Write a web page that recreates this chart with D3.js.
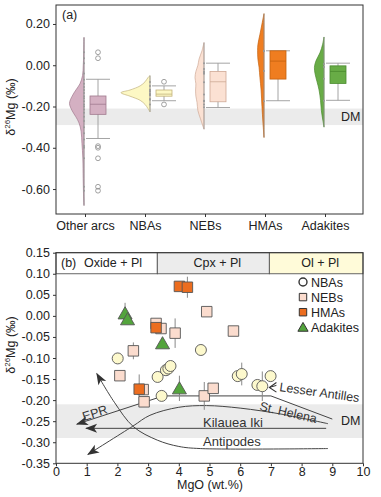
<!DOCTYPE html>
<html>
<head>
<meta charset="utf-8">
<script src="https://cdn.jsdelivr.net/npm/d3@7"></script>
<style>
  body { margin: 0; background: #fff; }
  svg { font-family: "Liberation Sans", Arial, sans-serif; }
</style>
</head>
<body>
<svg id="chart" width="381" height="497"></svg>
<script>
// ---------- panel (a) data ----------
const groups = ['Other arcs', 'NBAs', 'NEBs', 'HMAs', 'Adakites'];
const groupFill = ['#d4b0c2', '#fdf8c4', '#fbe1d3', '#ef7d20', '#68ac46'];
const groupStroke = ['#a07a8e', '#c2b27c', '#cfa996', '#c4620f', '#4a8a2e'];

const boxQ1 = [-0.238, -0.15, -0.177, -0.067, -0.088];
const boxMedian = [-0.189, -0.14, -0.08, 0.02, -0.03];
const boxQ3 = [-0.149, -0.12, -0.03, 0.07, -0.003];
const whiskerLow = [-0.355, -0.172, -0.205, -0.172, -0.17];
const whiskerHigh = [-0.068, -0.10, 0.01, 0.07, 0.01];
const outliers = [
  [0.063, 0.034, -0.392, -0.40, -0.451, -0.589, -0.608],
  [-0.08, -0.19],
  [], [], []
];

// violin half-profiles: [δ26Mg, relative density]
const violinOther = [[0.135, 0], [0.05, 0.01], [0, 0.025], [-0.05, 0.05], [-0.09, 0.14], [-0.12, 0.28],
  [-0.15, 0.41], [-0.185, 0.5], [-0.22, 0.41], [-0.25, 0.28], [-0.28, 0.17], [-0.32, 0.1],
  [-0.38, 0.07], [-0.45, 0.04], [-0.55, 0.028], [-0.62, 0.017], [-0.68, 0]];
const violinNBA = [[-0.05, 0], [-0.06, 0.07], [-0.08, 0.17], [-0.10, 0.34], [-0.12, 0.69], [-0.133, 1],
  [-0.15, 0.69], [-0.17, 0.34], [-0.19, 0.17], [-0.21, 0.07], [-0.226, 0]];
const violinNEB = [[0.11, 0], [0.07, 0.07], [0.03, 0.17], [0, 0.21], [-0.03, 0.28], [-0.06, 0.31],
  [-0.09, 0.28], [-0.12, 0.29], [-0.15, 0.28], [-0.18, 0.24], [-0.22, 0.21], [-0.26, 0.12],
  [-0.29, 0.05], [-0.31, 0]];
const violinHMA = [[0.25, 0], [0.2, 0.07], [0.15, 0.14], [0.1, 0.21], [0.07, 0.22], [0.03, 0.21],
  [-0.01, 0.17], [-0.06, 0.14], [-0.12, 0.1], [-0.2, 0.07], [-0.28, 0.035], [-0.35, 0]];
const violinAdakite = [[0.137, 0], [0.1, 0.05], [0.06, 0.14], [0.02, 0.28], [-0.01, 0.33], [-0.04, 0.31],
  [-0.08, 0.24], [-0.12, 0.17], [-0.17, 0.12], [-0.22, 0.09], [-0.27, 0.035], [-0.30, 0]];
const violins = [violinOther, violinNBA, violinNEB, violinHMA, violinAdakite];

const otherArcsMg = [0.063, 0.034, 0.01, -0.04, -0.07, -0.09, -0.105, -0.12, -0.135, -0.15, -0.16,
  -0.175, -0.19, -0.2, -0.215, -0.23, -0.25, -0.27, -0.3, -0.33, -0.36, -0.392, -0.4, -0.451, -0.589, -0.608];

// ---------- panel (b) data ----------
const nbaMgO = [2.01, 3.31, 3.58, 3.66, 3.73, 3.44, 4.72, 5.92, 6.05, 6.56, 6.72, 6.99];
const nbaMg = [-0.101, -0.145, -0.129, -0.125, -0.119, -0.19, -0.081, -0.143, -0.138, -0.164, -0.167, -0.143];
const nbaErr = [0, 0, 0, 0, 0, 0.01, 0, 0, 0.027, 0, 0.035, 0.012];

const nebMgO = [4.91, 5.78, 3.88, 3.26, 3.42, 2.52, 2.08, 2.87, 2.84, 4.83, 5.12];
const nebMg = [0.01, -0.036, -0.041, -0.018, -0.03, -0.083, -0.142, -0.204, -0.175, -0.19, -0.172];
const nebErr = [0, 0, 0.035, 0, 0, 0.02, 0, 0, 0, 0.033, 0];

const hmaMgO = [4.02, 4.28, 3.26, 2.71];
const hmaMg = [0.07, 0.068, -0.028, -0.174];
const hmaErr = [0, 0.025, 0, 0.035];

const adakiteMgO = [2.25, 2.33, 3.47, 4.02];
const adakiteMg = [0.006, -0.008, -0.065, -0.172];
const adakiteErr = [0.025, 0, 0, 0.03];

const phaseNames = ['Oxide + Pl', 'Cpx + Pl', 'Ol + Pl'];
const phaseBounds = [0, 3.3, 6.95, 10];
const phaseFill = ['#ffffff', '#ececec', '#fffbd9'];

// model trends: [MgO, δ26Mg], drawn from first to last point (arrow at the end)
const trendEPR = [[9.0, -0.245], [7.0, -0.19], [3.5, -0.19], [0.68, -0.257]];
const trendStHelena = [[8.86, -0.256], [7.4, -0.234], [6.0, -0.219], [4.9, -0.213], [4.0, -0.217],
  [3.06, -0.236], [2.5, -0.262], [1.04, -0.329]];
const trendKilauea = [[8.8, -0.267], [0.98, -0.267]];
const trendAntipodes = [[8.86, -0.315], [4.7, -0.315], [4.0, -0.31], [3.3, -0.295], [2.52, -0.263],
  [1.9, -0.205], [1.33, -0.137]];

const dmRange = [-0.29, -0.21];

const svg = d3.select('#chart');
const axisColor = '#333';

const defs = svg.append('defs');
defs.append('marker')
  .attr('id', 'arrow')
  .attr('viewBox', '-1 -5 14 10')
  .attr('refX', 11).attr('refY', 0)
  .attr('markerWidth', 14).attr('markerHeight', 10)
  .attr('markerUnits', 'userSpaceOnUse')
  .attr('orient', 'auto')
  .append('path')
  .attr('d', 'M0,-4.5L12,0L0,4.5L3,0Z')
  .attr('fill', '#333');

function yLabel(cy) {
  const t = svg.append('text')
    .attr('transform', `translate(15,${cy}) rotate(-90)`)
    .attr('text-anchor', 'middle')
    .attr('font-size', 12.5)
    .attr('fill', '#222');
  t.append('tspan').text('δ');
  t.append('tspan').attr('font-size', 8).attr('dy', -5).text('26');
  t.append('tspan').attr('dy', 5).text('Mg (‰)');
}

// =============== panel (a) ===============
const xA = d3.scalePoint().domain(groups).range([85, 325]);
const yA = d3.scaleLinear().domain([-0.721, 0.292]).range([214, 5]);
const wA = d3.scaleLinear().domain([0, 1]).range([0, 29]);
const leftA = 56, rightA = 363;

svg.append('rect')
  .attr('x', leftA).attr('width', rightA - leftA)
  .attr('y', yA(dmRange[1])).attr('height', yA(dmRange[0]) - yA(dmRange[1]))
  .attr('fill', '#ebebeb');

groups.forEach((g, i) => {
  const cx = xA(g) + (g === 'NBAs' ? 5 : -1);
  const bx = cx + 14;
  const grp = svg.append('g');

  const area = d3.area()
    .y(d => yA(d[0]))
    .x0(cx)
    .x1(d => cx - wA(d[1]))
    .curve(d3.curveCatmullRom);
  grp.append('path')
    .datum(violins[i])
    .attr('d', area)
    .attr('fill', groupFill[i])
    .attr('stroke', groupStroke[i])
    .attr('stroke-width', 0.7);

  const vals = violins[i].map(d => d[0]);
  grp.append('line')
    .attr('x1', cx).attr('x2', cx)
    .attr('y1', yA(d3.max(vals))).attr('y2', yA(d3.min(vals)))
    .attr('stroke', '#999').attr('stroke-width', 0.8);

  // raw points on the spine
  const pts = [otherArcsMg, nbaMg, nebMg, hmaMg, adakiteMg][i];
  grp.selectAll('circle.raw')
    .data(pts).enter().append('circle')
    .attr('class', 'raw')
    .attr('cx', cx).attr('cy', d => yA(d)).attr('r', 1)
    .attr('fill', '#9a9a9a');

  // whiskers
  grp.append('line')
    .attr('x1', bx).attr('x2', bx)
    .attr('y1', yA(whiskerHigh[i])).attr('y2', yA(whiskerLow[i]))
    .attr('stroke', '#9a9a9a').attr('stroke-width', 0.9);
  [whiskerHigh[i], whiskerLow[i]].forEach(v => {
    grp.append('line')
      .attr('x1', bx - 12).attr('x2', bx + 12)
      .attr('y1', yA(v)).attr('y2', yA(v))
      .attr('stroke', '#9a9a9a').attr('stroke-width', 0.9);
  });

  // box
  grp.append('rect')
    .attr('x', bx - 8).attr('width', 16)
    .attr('y', yA(boxQ3[i])).attr('height', yA(boxQ1[i]) - yA(boxQ3[i]))
    .attr('fill', groupFill[i])
    .attr('stroke', groupStroke[i]).attr('stroke-width', 0.8);
  grp.append('line')
    .attr('x1', bx - 8).attr('x2', bx + 8)
    .attr('y1', yA(boxMedian[i])).attr('y2', yA(boxMedian[i]))
    .attr('stroke', groupStroke[i]).attr('stroke-width', 0.8);

  grp.selectAll('circle.out')
    .data(outliers[i]).enter().append('circle')
    .attr('class', 'out')
    .attr('cx', bx).attr('cy', d => yA(d)).attr('r', 2.4)
    .attr('fill', 'none').attr('stroke', '#8a8a8a').attr('stroke-width', 0.8);
});

svg.append('text')
  .attr('x', 341).attr('y', yA(-0.268))
  .attr('font-size', 12.5).attr('fill', '#222')
  .text('DM');

svg.append('text')
  .attr('x', 62).attr('y', 19)
  .attr('font-size', 12.5).attr('fill', '#222')
  .text('(a)');

svg.append('rect')
  .attr('x', leftA).attr('y', 5)
  .attr('width', rightA - leftA).attr('height', 214 - 5)
  .attr('fill', 'none').attr('stroke', axisColor).attr('stroke-width', 1);

const axA_y = svg.append('g')
  .attr('transform', `translate(${leftA},0)`)
  .call(d3.axisLeft(yA).tickValues([0.2, 0, -0.2, -0.4, -0.6]).tickFormat(d3.format('.2f')).tickSize(3).tickPadding(3));
const axA_x = svg.append('g')
  .attr('transform', 'translate(0,214)')
  .call(d3.axisBottom(xA).tickSize(3).tickPadding(4));
[axA_y, axA_x].forEach(a => {
  a.select('.domain').remove();
  a.selectAll('line').attr('stroke', axisColor);
  a.selectAll('text').attr('font-size', 12.5).attr('fill', '#222')
    .attr('font-family', '"Liberation Sans", Arial, sans-serif');
});
axA_y.selectAll('text').text(d => d === 0 ? '0.00' : d3.format('.2f')(d).replace('−', '-'));
yLabel(107);

// =============== panel (b) ===============
const xB = d3.scaleLinear().domain([0, 10]).range([56, 363]);
const yB = d3.scaleLinear().domain([-0.35, 0.15]).range([463.3, 252.7]);

svg.append('rect')
  .attr('x', xB(0)).attr('width', xB(10) - xB(0))
  .attr('y', yB(dmRange[1])).attr('height', yB(dmRange[0]) - yB(dmRange[1]))
  .attr('fill', '#ebebeb');

// phase header
phaseNames.forEach((p, i) => {
  svg.append('rect')
    .attr('x', xB(phaseBounds[i])).attr('width', xB(phaseBounds[i + 1]) - xB(phaseBounds[i]))
    .attr('y', yB(0.15)).attr('height', yB(0.10) - yB(0.15))
    .attr('fill', phaseFill[i]).attr('stroke', '#555').attr('stroke-width', 0.9);
  const mid = (xB(phaseBounds[i]) + xB(phaseBounds[i + 1])) / 2;
  svg.append('text')
    .attr('x', i === 0 ? 84 : mid + 4)
    .attr('y', 267)
    .attr('text-anchor', i === 0 ? 'start' : 'middle')
    .attr('font-size', 12.5).attr('fill', '#222')
    .text(p);
});
svg.append('text')
  .attr('x', 61).attr('y', 267)
  .attr('font-size', 12.5).attr('fill', '#222')
  .text('(b)');

// trends
const trendLine = d3.line().x(d => xB(d[0])).y(d => yB(d[1]));
[[trendEPR, d3.curveLinear], [trendStHelena, d3.curveCatmullRom], [trendKilauea, d3.curveLinear],
  [trendAntipodes, d3.curveCatmullRom]].forEach(([t, c]) => {
  svg.append('path')
    .datum(t)
    .attr('d', trendLine.curve(c))
    .attr('fill', 'none')
    .attr('stroke', '#444').attr('stroke-width', 1)
    .attr('marker-end', 'url(#arrow)');
});

// trend labels
function trendText(txt, x, y, rot, size) {
  svg.append('text')
    .attr('transform', `translate(${x},${y}) rotate(${rot})`)
    .attr('font-size', size).attr('fill', '#333')
    .text(txt);
}
trendText('EPR', 84, 421, -18, 12.5);
trendText('St. Helena', 259, 410, 13, 12.5);
trendText('Kilauea Iki', 203, 427, 0, 13);
trendText('Antipodes', 203, 445.5, 0, 13);
trendText('Lesser Antilles', 279, 391, 8, 12.5);
// open arrow to Lesser Antilles point
svg.append('path')
  .attr('d', `M${xB(7.18)},${yB(-0.165)}L${xB(6.95)},${yB(-0.17)}`)
  .attr('stroke', '#333').attr('fill', 'none').attr('stroke-width', 1);
svg.append('path')
  .attr('d', `M${xB(7.18)},${yB(-0.158)}L${xB(6.95)},${yB(-0.17)}L${xB(7.18)},${yB(-0.181)}`)
  .attr('stroke', '#333').attr('fill', 'none').attr('stroke-width', 1.1);

svg.append('text')
  .attr('x', 341).attr('y', 425)
  .attr('font-size', 12.5).attr('fill', '#222')
  .text('DM');

// error bars
const series = [
  { name: 'NBAs', x: nbaMgO, y: nbaMg, e: nbaErr, shape: 'circle', fill: '#fdf9cd' },
  { name: 'NEBs', x: nebMgO, y: nebMg, e: nebErr, shape: 'square', fill: '#fbdcce' },
  { name: 'HMAs', x: hmaMgO, y: hmaMg, e: hmaErr, shape: 'square', fill: '#ec6d1f' },
  { name: 'Adakites', x: adakiteMgO, y: adakiteMg, e: adakiteErr, shape: 'triangle', fill: '#53a43c' }
];
const symbolFor = {
  circle: d3.symbol().type(d3.symbolCircle).size(95),
  square: d3.symbol().type(d3.symbolSquare).size(110),
  triangle: d3.symbol().type(d3.symbolTriangle).size(85)
};
const legendSymbol = {
  circle: d3.symbol().type(d3.symbolCircle).size(50),
  square: d3.symbol().type(d3.symbolSquare).size(55),
  triangle: d3.symbol().type(d3.symbolTriangle).size(45)
};

series.forEach(s => {
  s.x.forEach((m, i) => {
    if (s.e[i] > 0) {
      svg.append('line')
        .attr('x1', xB(m)).attr('x2', xB(m))
        .attr('y1', yB(s.y[i] + s.e[i])).attr('y2', yB(s.y[i] - s.e[i]))
        .attr('stroke', '#888').attr('stroke-width', 1);
    }
  });
});
series.forEach(s => {
  svg.append('g').selectAll('path')
    .data(d3.zip(s.x, s.y)).enter().append('path')
    .attr('transform', d => `translate(${xB(d[0])},${yB(d[1]) + (s.shape === 'triangle' ? 1.5 : 0)})`)
    .attr('d', symbolFor[s.shape]())
    .attr('fill', s.fill)
    .attr('stroke', '#555').attr('stroke-width', 0.9);
});

// legend
const legend = svg.append('g').attr('transform', 'translate(303,282)');
series.forEach((s, i) => {
  const row = legend.append('g').attr('transform', `translate(0,${i * 15.1})`);
  row.append('path')
    .attr('d', legendSymbol[s.shape]())
    .attr('transform', s.shape === 'triangle' ? 'translate(0,1)' : null)
    .attr('fill', s.shape === 'circle' ? '#fff' : s.fill)
    .attr('stroke', '#333').attr('stroke-width', s.shape === 'circle' ? 1.4 : 1);
  row.append('text')
    .attr('x', 8).attr('y', 4.5)
    .attr('font-size', 12.5).attr('fill', '#222')
    .text(s.name);
});

// frame and axes
svg.append('rect')
  .attr('x', xB(0)).attr('y', yB(0.15))
  .attr('width', xB(10) - xB(0)).attr('height', yB(-0.35) - yB(0.15))
  .attr('fill', 'none').attr('stroke', axisColor).attr('stroke-width', 1);

const axB_y = svg.append('g')
  .attr('transform', `translate(${xB(0)},0)`)
  .call(d3.axisLeft(yB).tickValues(d3.range(-0.35, 0.151, 0.05)).tickFormat(d3.format('.2f')).tickSize(3).tickPadding(3));
const axB_x = svg.append('g')
  .attr('transform', `translate(0,${yB(-0.35)})`)
  .call(d3.axisBottom(xB).ticks(10).tickSize(3).tickPadding(1));
[axB_y, axB_x].forEach(a => {
  a.select('.domain').remove();
  a.selectAll('line').attr('stroke', axisColor);
  a.selectAll('text').attr('font-size', 12.5).attr('fill', '#222')
    .attr('font-family', '"Liberation Sans", Arial, sans-serif');
});
axB_y.selectAll('text').text(d => {
  const s = d3.format('.2f')(Math.abs(d) < 1e-9 ? 0 : d).replace('−', '-');
  return s;
});

svg.append('text')
  .attr('x', 210).attr('y', 489)
  .attr('text-anchor', 'middle')
  .attr('font-size', 12.5).attr('fill', '#222')
  .text('MgO (wt.%)');
yLabel(345);
</script>
</body>
</html>
